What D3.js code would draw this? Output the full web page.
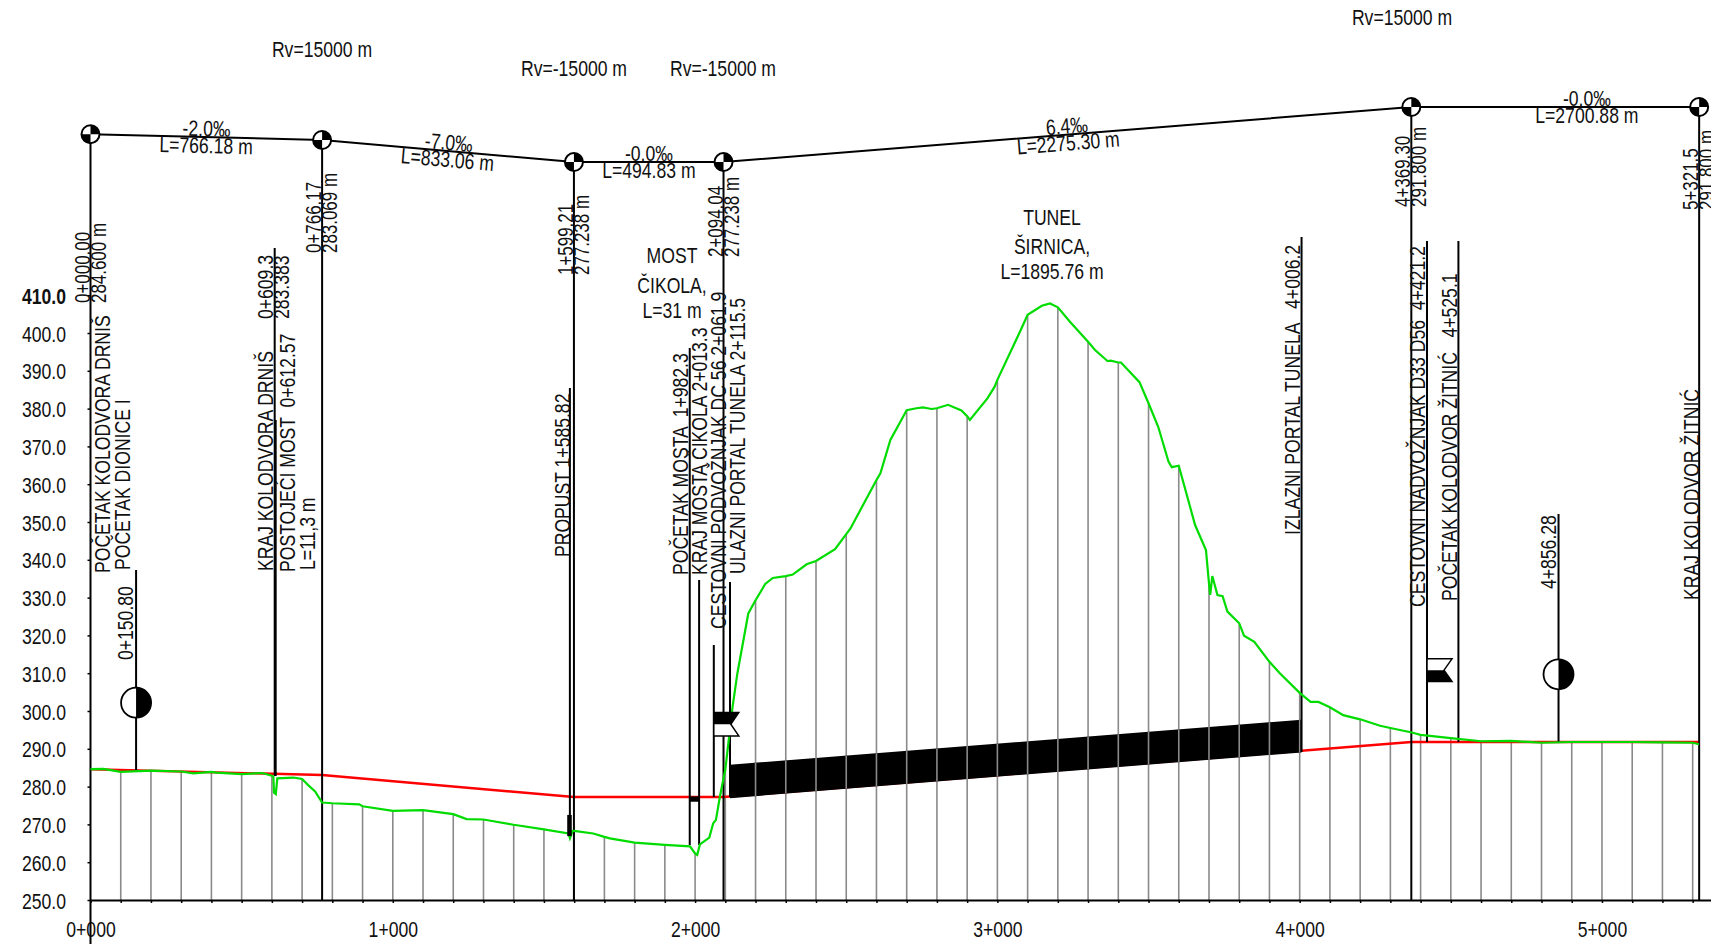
<!DOCTYPE html>
<html>
<head>
<meta charset="utf-8">
<style>
  body { margin: 0; background: #fff; overflow: hidden; }
  svg { display: block; }
  text { font-family: "Liberation Sans", Arial, sans-serif; font-size: 22px; fill: #111; white-space: pre; }
</style>
<script src="https://cdn.jsdelivr.net/npm/d3@7"></script>
</head>
<body>
<div id="chart"></div>
<script>
var svgWidth = 1711;
var svgHeight = 944;

// Terrain (station in m, level in m)
var terrainStations = [0, 42, 100, 200, 300, 340, 400, 417, 500, 568, 600, 605, 607, 613, 618, 671, 700, 720, 743, 766, 800, 889, 900, 1000, 1100, 1200, 1244, 1300, 1400, 1500, 1581, 1586, 1595, 1600, 1663, 1700, 1718, 1800, 1900, 1983, 2000, 2007, 2016, 2047, 2060, 2069, 2082, 2100, 2124, 2140, 2176, 2200, 2232, 2257, 2300, 2323, 2369, 2400, 2463, 2500, 2514, 2600, 2613, 2646, 2700, 2732, 2754, 2782, 2800, 2837, 2881, 2900, 2909, 2967, 2991, 3000, 3075, 3100, 3147, 3174, 3200, 3240, 3300, 3323, 3364, 3375, 3400, 3409, 3470, 3500, 3532, 3566, 3577, 3600, 3654, 3690, 3698, 3700, 3704, 3711, 3728, 3745, 3761, 3800, 3816, 3850, 3900, 3935, 4000, 4036, 4062, 4100, 4144, 4200, 4266, 4300, 4371, 4400, 4500, 4600, 4700, 4800, 4900, 5000, 5100, 5200, 5300, 5321];
var terrainLevels = [284.6, 284.7, 283.9, 284.2, 284.0, 283.5, 283.9, 283.7, 283.3, 283.6, 282.9, 282.6, 278.4, 278.0, 282.2, 282.4, 282.0, 280.4, 278.7, 275.8, 275.6, 275.3, 274.8, 273.6, 273.8, 272.7, 271.4, 271.3, 269.9, 268.7, 267.6, 266.3, 268.3, 268.3, 267.6, 266.7, 266.3, 265.2, 264.6, 264.2, 262.3, 261.9, 264.7, 266.5, 270.3, 271.2, 277.3, 284.5, 301.1, 310, 325.8, 329.3, 333.6, 335.2, 335.7, 336.1, 338.8, 339.7, 342.8, 346.8, 348.3, 361.1, 362.9, 371.7, 379.6, 380.1, 380.3, 379.9, 380.1, 381, 379.5, 378, 377, 382.7, 385.8, 387.6, 400.4, 404.8, 407.2, 407.8, 406.8, 403, 397.7, 395.5, 392.6, 392.7, 392.2, 392.2, 387, 381.4, 375.2, 366, 364.5, 364.9, 349.2, 342.6, 335.5, 333.8, 330.7, 335.7, 330.7, 330.4, 326.3, 323.2, 319.9, 318.3, 313, 309.9, 304.8, 302.4, 302.4, 301, 298.9, 297.8, 296.1, 295.5, 294.3, 293.7, 292.8, 292, 292.1, 291.6, 291.8, 291.8, 291.8, 291.7, 291.6, 291.2];

// Vertical alignment break points
var pviStations = [0, 766.17, 1599.21, 2094.04, 4369.3, 5321.5];
var pviLevels = [284.6, 283.069, 277.238, 277.238, 291.8, 291.8];
var pviChainage = ["0+000.00", "0+766.17", "1+599.21", "2+094.04", "4+369.30", "5+321.5"];
var pviLevelText = ["284.600 m", "283.069 m", "277.238 m", "277.238 m", "291.800 m", "291.800 m"];
var gradeText = ["-2.0\u2030", "-7.0\u2030", "-0.0\u2030", "6.4\u2030", "-0.0\u2030"];
var lengthText = ["L=766.18 m", "L=833.06 m", "L=494.83 m", "L=2275.30 m", "L=2700.88 m"];
var gradeLabelStations = [383, 1183, 1847, 3232, 4950];

// Structures
var tunnelStations = [2115.5, 4006.2];
var tunnelBottom = [276.95, 289.05];
var tunnelTop = [285.8, 297.7];
var bridgeStations = [1982.3, 2013.3];
var bridgeLevels = [276.0, 277.4];
var culvertStations = [1577, 1592];
var culvertLevels = [266.9, 272.5];
var halfCircleStations = [150.8, 4856.28];
var halfCircleLevels = [302.2, 309.7];
var flagStations = [2061.9, 4421.2];
var flagLevels = [[299.6, 293.4], [313.8, 307.8]];

// Axis ticks
var yTicks = d3.range(250, 411, 10);
var xTicks = d3.range(0, 5301, 100);

// Leader lines: station, top (px), bottom (px)
var leaderStations = [0, 150.8, 609.3, 612.57, 766.17, 1585.82, 1599.21, 1982.3, 2013.3, 2061.9, 2094.04, 2115.5, 4006.2, 4369.3, 4421.2, 4525.1, 4856.28, 5321.5];
var leaderTop = [134, 570, 248, 420, 140, 388, 162, 348, 580, 645, 162, 582, 237, 107, 241, 241, 514, 107];
var leaderBottom = [944, 770, 776, 776, 900, 836, 900, 845, 845, 797, 900, 797, 752, 900, 742, 742, 742, 900];

// Rotated labels: text, baseline x (px), start y (px)
var sideLabels = [
  ["POČETAK KOLODVORA DRNIŠ", 110, 573],
  ["POČETAK DIONICE I", 130, 570],
  ["0+150.80", 133, 660],
  ["KRAJ KOLODVORA DRNIŠ", 273, 571],
  ["0+609.3", 273, 319],
  ["283.383", 289, 319],
  ["POSTOJEĆI MOST  0+612.57", 295, 572],
  ["L=11,3 m", 315, 570],
  ["PROPUST 1+585.82", 570, 557],
  ["POČETAK MOSTA  1+982.3", 688, 575],
  ["KRAJ MOSTA ČIKOLA 2+013.3", 707, 575],
  ["CESTOVNI PODVOŽNJAK DC 56 2+061.9", 726, 629],
  ["ULAZNI PORTAL TUNELA 2+115.5", 745, 574],
  ["IZLAZNI PORTAL TUNELA   4+006.2", 1300, 535],
  ["CESTOVNI NADVOŽNJAK D33 D56  4+421.2", 1425, 607],
  ["POČETAK KOLODVOR ŽITNIĆ   4+525.1", 1457, 601],
  ["4+856.28", 1556, 589],
  ["KRAJ KOLODVOR ŽITNIĆ", 1699, 600]
];

// Upright labels: text, centre x (px), baseline y (px)
var flatLabels = [
  ["Rv=15000 m", 322, 57],
  ["Rv=-15000 m", 574, 76],
  ["Rv=-15000 m", 723, 76],
  ["Rv=15000 m", 1402, 25],
  ["MOST", 672, 263],
  ["ČIKOLA,", 672, 293],
  ["L=31 m", 672, 318],
  ["TUNEL", 1052, 225],
  ["ŠIRNICA,", 1052, 254],
  ["L=1895.76 m", 1052, 279]
];

var textSquash = "scale(0.8,1)";
var numberSquash = "scale(0.77,1)";
var profileShift = 635; // schematic grade line sits this far above the profile

var xScale = d3.scaleLinear().domain([0, 5360]).range([90.5, 1710.8]);
var yScale = d3.scaleLinear().domain([250, 410]).range([900, 295.2]);

var svg = d3.select("#chart")
  .append("svg")
  .attr("width", svgWidth)
  .attr("height", svgHeight);

var terrain = terrainStations.map((s, i) => [s, terrainLevels[i]]);
var alignment = pviStations.map((s, i) => [s, pviLevels[i]]);
var gridPoints = terrain.filter(d => d[0] > 0 && d[0] % 100 === 0);
var lineGen = d3.line().x(d => xScale(d[0])).y(d => yScale(d[1]));

function drawGrid(parent) {
  parent.selectAll("line")
    .data(gridPoints)
    .enter()
    .append("line")
    .attr("x1", d => xScale(d[0]))
    .attr("x2", d => xScale(d[0]))
    .attr("y1", yScale(250))
    .attr("y2", d => yScale(d[1]))
    .attr("stroke", "#8a8a8a")
    .attr("stroke-width", 1.6);
}

// Grid lines: axis up to the terrain at each 100 m
drawGrid(svg.append("g"));

// Axes
var xAxis = d3.axisBottom(xScale)
  .tickValues(xTicks)
  .tickSize(3)
  .tickSizeOuter(0)
  .tickFormat(d => d % 1000 === 0 ? (d / 1000) + "+000" : "");
var xGroup = svg.append("g")
  .attr("transform", `translate(0,${yScale(250)})`)
  .call(xAxis);
xGroup.select(".domain").attr("stroke", "#000").attr("stroke-width", 2);
xGroup.selectAll(".tick line").attr("stroke", "#000").attr("stroke-width", 1.5);
xGroup.selectAll(".tick text")
  .attr("y", 0).attr("dy", 0)
  .attr("transform", "translate(0,37) " + textSquash)
  .attr("fill", "#111")
  .style("font-size", "22px")
  .style("font-family", '"Liberation Sans"');

var yAxis = d3.axisLeft(yScale)
  .tickValues(yTicks)
  .tickSize(3)
  .tickSizeOuter(0)
  .tickFormat(d3.format(".1f"));
var yGroup = svg.append("g")
  .attr("transform", `translate(${xScale(0)},0)`)
  .call(yAxis);
yGroup.select(".domain").remove();
yGroup.selectAll(".tick line").attr("stroke", "#000").attr("stroke-width", 1.5);
yGroup.selectAll(".tick text")
  .attr("x", 0).attr("dy", 0)
  .attr("transform", "translate(-24.5,8) " + textSquash)
  .attr("fill", "#111")
  .attr("font-weight", d => d === 410 ? "bold" : "normal")
  .style("font-size", "22px")
  .style("font-family", '"Liberation Sans"');

// Alignment, with the tunnel body covering it
svg.append("path")
  .attr("d", lineGen(alignment))
  .attr("fill", "none")
  .attr("stroke", "#ff0000")
  .attr("stroke-width", 2.4);

var tunnel = tunnelStations.map((s, i) => ({s: s, low: tunnelBottom[i], high: tunnelTop[i]}));
var tunnelPath = d3.area().x(d => xScale(d.s)).y0(d => yScale(d.low)).y1(d => yScale(d.high))(tunnel);
svg.append("path").attr("d", tunnelPath).attr("fill", "#000");

// Grid lines show through the tunnel body
svg.append("clipPath").attr("id", "tunnelClip").append("path").attr("d", tunnelPath);
drawGrid(svg.append("g").attr("clip-path", "url(#tunnelClip)"));

// Leader lines
svg.append("g").selectAll("line")
  .data(leaderStations)
  .enter()
  .append("line")
  .attr("x1", d => xScale(d))
  .attr("x2", d => xScale(d))
  .attr("y1", (d, i) => leaderTop[i])
  .attr("y2", (d, i) => leaderBottom[i])
  .attr("stroke", "#000")
  .attr("stroke-width", 2);

// Terrain
svg.append("path")
  .attr("d", lineGen(terrain))
  .attr("fill", "none")
  .attr("stroke", "#00dc00")
  .attr("stroke-width", 2.2);

// Bridge deck and culvert blocks
svg.append("rect")
  .attr("x", xScale(bridgeStations[0]))
  .attr("y", yScale(bridgeLevels[1]))
  .attr("width", xScale(bridgeStations[1]) - xScale(bridgeStations[0]))
  .attr("height", yScale(bridgeLevels[0]) - yScale(bridgeLevels[1]))
  .attr("fill", "#000");
svg.append("rect")
  .attr("x", xScale(culvertStations[0]))
  .attr("y", yScale(culvertLevels[1]))
  .attr("width", xScale(culvertStations[1]) - xScale(culvertStations[0]))
  .attr("height", yScale(culvertLevels[0]) - yScale(culvertLevels[1]))
  .attr("fill", "#000");

// Half filled circles
var halfR = 15;
halfCircleStations.forEach(function(s, i) {
  var cx = xScale(s), cy = yScale(halfCircleLevels[i]);
  svg.append("circle")
    .attr("cx", cx).attr("cy", cy).attr("r", halfR)
    .attr("fill", "#fff").attr("stroke", "#000").attr("stroke-width", 1.8);
  svg.append("path")
    .attr("d", `M${cx},${cy - halfR}A${halfR},${halfR} 0 0 1 ${cx},${cy + halfR}Z`)
    .attr("fill", "#000");
});

// Flags, one half black: top half on the first, bottom half on the second
var flagWidth = 25;
var flagNotch = 8;
flagStations.forEach(function(s, i) {
  var x0 = xScale(s), top = yScale(flagLevels[i][0]), bottom = yScale(flagLevels[i][1]);
  var mid = (top + bottom) / 2;
  var x1 = x0 + flagWidth, xn = x1 - flagNotch;
  svg.append("path")
    .attr("d", `M${x0},${top}L${x1},${top}L${xn},${mid}L${x1},${bottom}L${x0},${bottom}Z`)
    .attr("fill", "#fff").attr("stroke", "#000").attr("stroke-width", 1.5);
  var half = i === 0
    ? `M${x0},${top}L${x1},${top}L${xn},${mid}L${x0},${mid}Z`
    : `M${x0},${mid}L${xn},${mid}L${x1},${bottom}L${x0},${bottom}Z`;
  svg.append("path").attr("d", half).attr("fill", "#000");
});

// Schematic grade line with break point symbols
var gradeLine = d3.line().x(d => xScale(d[0])).y(d => yScale(d[1]) - profileShift);
svg.append("path")
  .attr("d", gradeLine(alignment))
  .attr("fill", "none")
  .attr("stroke", "#000")
  .attr("stroke-width", 2);

var pviR = 9;
alignment.forEach(function(d) {
  var cx = xScale(d[0]), cy = yScale(d[1]) - profileShift;
  svg.append("circle")
    .attr("cx", cx).attr("cy", cy).attr("r", pviR)
    .attr("fill", "#fff").attr("stroke", "#000").attr("stroke-width", 2);
  svg.append("path")
    .attr("d", `M${cx},${cy}L${cx},${cy - pviR}A${pviR},${pviR} 0 0 1 ${cx + pviR},${cy}Z` +
      `M${cx},${cy}L${cx},${cy + pviR}A${pviR},${pviR} 0 0 1 ${cx - pviR},${cy}Z`)
    .attr("fill", "#000");
});

// Grade and length labels follow the slope of their segment
gradeText.forEach(function(t, i) {
  var x0 = xScale(pviStations[i]), x1 = xScale(pviStations[i + 1]);
  var y0 = yScale(pviLevels[i]) - profileShift, y1 = yScale(pviLevels[i + 1]) - profileShift;
  var angle = Math.atan2(y1 - y0, x1 - x0) * 180 / Math.PI;
  var lx = xScale(gradeLabelStations[i]);
  var ly = y0 + (y1 - y0) * (lx - x0) / (x1 - x0);
  var g = svg.append("g").attr("transform", `translate(${lx},${ly}) rotate(${angle})`);
  g.append("text").attr("text-anchor", "middle")
    .attr("transform", "translate(0,-1) " + textSquash).text(t);
  g.append("text").attr("text-anchor", "middle")
    .attr("transform", "translate(0,16) " + textSquash).text(lengthText[i]);
});

// Rotated chainage and level at the break points
var pviStart = [303, 253, 275, 257, 207, 210];
pviStations.forEach(function(s, i) {
  var x = xScale(s);
  svg.append("text")
    .attr("transform", `translate(${x - 1},${pviStart[i]}) rotate(-90) ${numberSquash}`)
    .text(pviChainage[i]);
  svg.append("text")
    .attr("transform", `translate(${x + 15},${pviStart[i]}) rotate(-90) ${numberSquash}`)
    .text(pviLevelText[i]);
});

svg.append("g").selectAll("text")
  .data(sideLabels)
  .enter()
  .append("text")
  .attr("transform", d => `translate(${d[1]},${d[2]}) rotate(-90) ${textSquash}`)
  .text(d => d[0]);

svg.append("g").selectAll("text")
  .data(flatLabels)
  .enter()
  .append("text")
  .attr("text-anchor", "middle")
  .attr("transform", d => `translate(${d[1]},${d[2]}) ${textSquash}`)
  .text(d => d[0]);
</script>
</body>
</html>
